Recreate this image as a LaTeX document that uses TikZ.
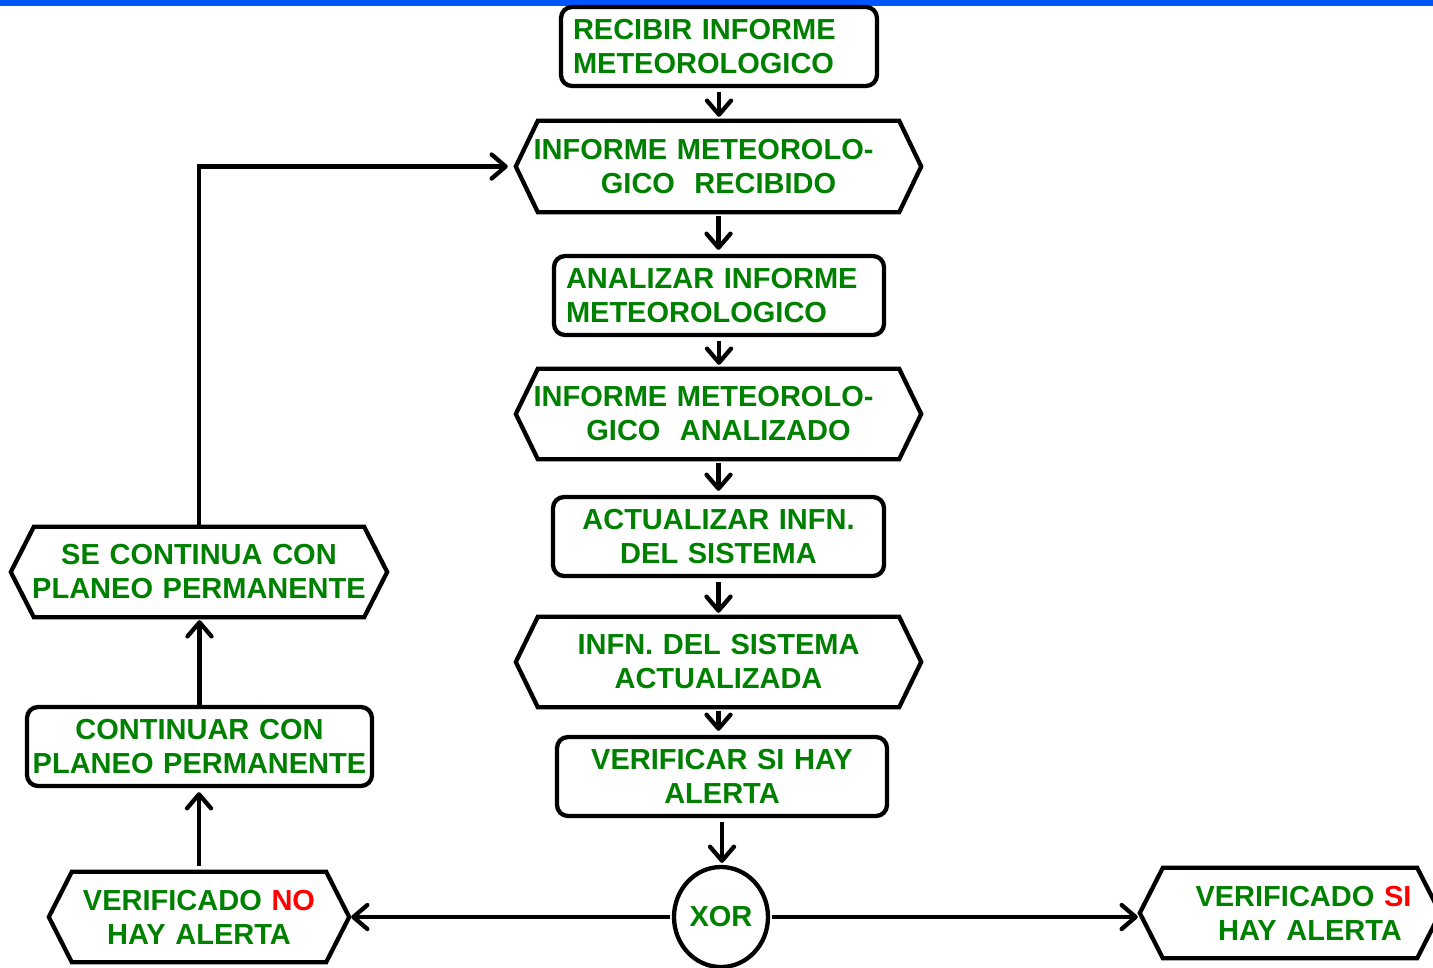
\documentclass[tikz,border=0pt]{standalone}
\usepackage{fontspec}
\setmainfont{Liberation Sans}
\usetikzlibrary{arrows.meta,shapes.geometric}
\definecolor{txtgreen}{RGB}{0,128,0}
\definecolor{txtred}{RGB}{255,0,0}
\definecolor{barblue}{RGB}{0,85,255}

% hexagonal outline around a named node (pointed left and right ends)
\newcommand\hexoutline[2][23pt]{%
  \draw[thickline, line join=miter]
    (#2.west) -- ([xshift=#1]#2.north west) -- ([xshift=-#1]#2.north east)
    -- (#2.east) -- ([xshift=-#1]#2.south east) -- ([xshift=#1]#2.south west) -- cycle;}
% invisible horizontal strut used to offset a centred line
\newcommand\padright[1]{\rule{#1}{0pt}}

\begin{document}
\begin{tikzpicture}[x=1pt,y=-1pt,
  every node/.style={font=\fontsize{29}{34}\selectfont\bfseries, text=txtgreen, inner sep=0pt},
  thickline/.style={line width=4.3pt, draw=black},
  procbox/.style={thickline, rounded corners=11pt, minimum height=79pt},
  hexbox/.style={minimum height=90pt, align=center},
  flow/.style={thickline, -{Straight Barb[length=14pt,width=24pt,round]},
               shorten <=4pt, shorten >=4pt},
]
\useasboundingbox (0,0) rectangle (1433,967);
\clip (0,0) rectangle (1433,967);

% top rule
\fill[barblue] (0,0) rectangle (1433,6);

% main column
\node[procbox, text width=292pt, inner xsep=12pt, align=left] (r1) at (719,46.5)
  {RECIBIR INFORME\\METEOROLOGICO};
\node[hexbox, text width=377pt, inner xsep=14pt, minimum height=91pt] (h1) at (718.5,166.5)
  {INFORME METEOROLO-\padright{30pt}\\GICO\ \ RECIBIDO};
\node[procbox, text width=306pt, inner xsep=12pt, align=left] (a1) at (719,295.5)
  {ANALIZAR INFORME\\METEOROLOGICO};
\node[hexbox, text width=377pt, inner xsep=14pt] (h2) at (718.5,414)
  {INFORME METEOROLO-\padright{30pt}\\GICO\ \ ANALIZADO};
\node[procbox, text width=311pt, inner xsep=10pt, align=center] (u1) at (718.5,536.5)
  {ACTUALIZAR INFN.\\DEL SISTEMA};
\node[hexbox, text width=377pt, inner xsep=14pt] (h3) at (718.5,662)
  {INFN. DEL SISTEMA\\ACTUALIZADA};
\node[procbox, text width=310pt, inner xsep=10pt, align=center] (v1) at (722,776.5)
  {VERIFICAR SI HAY\\ALERTA};
\node[ellipse, thickline, minimum width=94pt, minimum height=100pt] (xor) at (721,917) {XOR};

% outcomes
\node[hexbox, text width=280pt, inner xsep=10pt] (no) at (199,917)
  {VERIFICADO \textcolor{txtred}{NO}\\HAY ALERTA};
\node[hexbox, text width=280pt, inner xsep=10pt] (si) at (1290,913)
  {\hspace*{27pt}VERIFICADO \textcolor{txtred}{SI}\\\hspace*{40pt}HAY ALERTA};

% left branch
\node[procbox, text width=335pt, inner xsep=5pt, align=center] (cont) at (199.5,746.5)
  {CONTINUAR CON\\PLANEO PERMANENTE};
\node[hexbox, text width=356pt, inner xsep=10pt] (se) at (199,572)
  {SE CONTINUA CON\\PLANEO PERMANENTE};

\hexoutline[22pt]{h1}
\hexoutline[22pt]{h2}
\hexoutline[22pt]{h3}
\hexoutline{no}
\hexoutline{si}
\hexoutline{se}

% connectors
\draw[flow] (r1.south) -- (r1.south |- h1.north);
\draw[flow] (h1.south) -- (h1.south |- a1.north);
\draw[flow] (a1.south) -- (a1.south |- h2.north);
\draw[flow] (h2.south) -- (h2.south |- u1.north);
\draw[flow] (u1.south) -- (u1.south |- h3.north);
\draw[flow] (h3.south) -- (h3.south |- v1.north);
\draw[flow, shorten >=2pt] (v1.south) -- (v1.south |- xor.north);
\draw[flow, shorten <=2pt, shorten >=2pt] (xor.west) -- (no.east);
\draw[flow, shorten <=2pt, shorten >=2pt] (xor.east) -- (si.west |- xor.east);
\draw[flow, shorten <=6pt] (no.north) -- (no.north |- cont.south);
\draw[flow, shorten <=0pt, shorten >=3pt] (cont.north) -- (cont.north |- se.south);
\draw[flow, shorten <=0pt, shorten >=8pt] (se.north) |- (h1.west);
\end{tikzpicture}
\end{document}
